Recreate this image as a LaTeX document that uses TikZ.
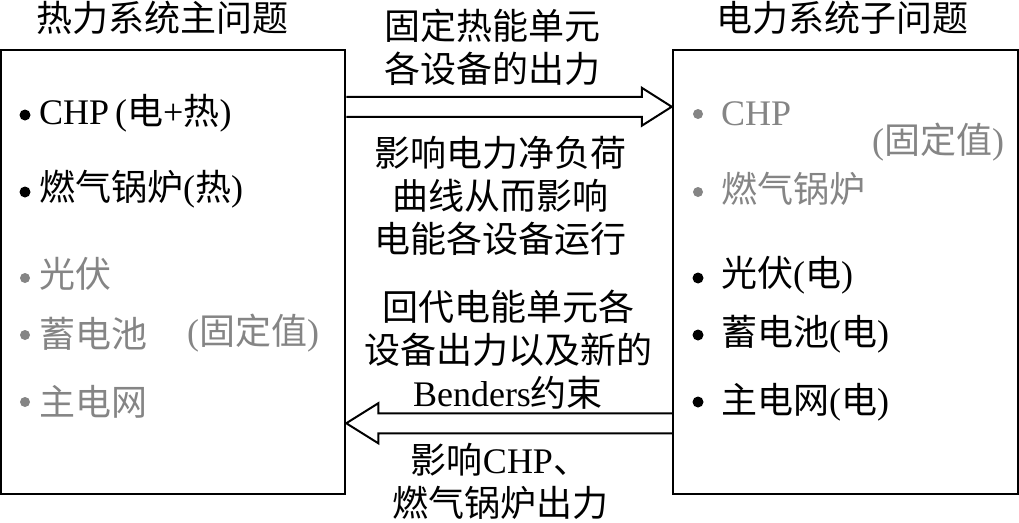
\documentclass[tikz,border=0pt]{standalone}
\usepackage{fontspec}
\setmainfont{Liberation Serif}
\newfontfamily\cjk{Noto Sans CJK SC}
\newcommand\zh[1]{{\cjk #1}}
\usetikzlibrary{calc}
\definecolor{fixgray}{gray}{0.52}
\begin{document}
\begin{tikzpicture}[x=1pt,y=-1pt,
  box/.style={draw, line width=2.5pt, inner sep=0pt},
  arr/.style={draw, line width=2pt, line join=miter},
  txt/.style={inner sep=0pt, font=\fontsize{36}{43}\selectfont},
  item/.style={txt, anchor=west},
  dim/.style={text=fixgray},
  dot/.style={circle, fill=black, inner sep=0pt, minimum size=11pt},
  dimdot/.style={dot, fill=fixgray, minimum size=10pt}]
\useasboundingbox (0,0) rectangle (1019,522);
% titles
\node[item] (Lt) at (36,18) {\zh{热力系统主问题}};
\node[item] (Rt) at (716,18) {\zh{电力系统子问题}};
% boxes
\node[box, minimum width=344pt, minimum height=444pt] (L) at (173,272) {};
\node[box, minimum width=345pt, minimum height=444pt] (R) at (845.5,272) {};
% left items
\node[dot] (lb1) at (25,115) {};
\node[item] (l1) at (39,113) {CHP\,(\zh{电}+\zh{热})};
\node[dot] (lb2) at (25,192) {};
\node[item] (l2) at (39,189) {\zh{燃气锅炉}(\zh{热})};
\node[dimdot] (lb3) at (25,278) {};
\node[item, dim] (l3) at (39,274) {\zh{光伏}};
\node[dimdot] (lb4) at (25,335) {};
\node[item, dim] (l4) at (39,334) {\zh{蓄电池}};
\node[item, dim] (l4f) at (187,333) {(\zh{固定值})};
\node[dimdot] (lb5) at (25,402) {};
\node[item, dim] (l5) at (39,402) {\zh{主电网}};
% right items
\node[dimdot] (rb1) at (698,114) {};
\node[item, dim] (r1) at (721,114) {CHP};
\node[item, dim] (r1f) at (872,142) {(\zh{固定值})};
\node[dimdot] (rb2) at (698,192) {};
\node[item, dim] (r2) at (721,189) {\zh{燃气锅炉}};
\node[dot] (rb3) at (698,278) {};
\node[item] (r3) at (721,275) {\zh{光伏}(\zh{电})};
\node[dot] (rb4) at (698,335) {};
\node[item] (r4) at (721,334) {\zh{蓄电池}(\zh{电})};
\node[dot] (rb5) at (698,402) {};
\node[item] (r5) at (721,402) {\zh{主电网}(\zh{电})};
% centre texts
\node[txt, align=center] (ta) at (492,47) {\zh{固定热能单元}\\\zh{各设备的出力}};
\node[txt, align=center] (tb) at (500,196) {\zh{影响电力净负荷}\\\zh{曲线从而影响}\\\zh{电能各设备运行}};
\node[txt, align=center] (tc) at (508,350) {\zh{回代电能单元各}\\\zh{设备出力以及新的}\\Benders\zh{约束}};
\node[txt, align=center] (td) at (500,481) {\zh{影响}CHP\zh{、}\\\zh{燃气锅炉出力}};
% block arrows
\draw[arr] ($(L.north east)+(0,48)$) -- ($(R.north west)+(-30,48)$) -- ++(0,-9)
  -- ($(R.north west)+(0,58)$) -- ($(R.north west)+(-30,77)$) -- ++(0,-9)
  -- ($(L.north east)+(0,68)$);
\draw[arr] ($(R.south west)+(0,-82)$) -- ($(L.south east)+(32,-82)$) -- ++(0,-10)
  -- ($(L.south east)+(0,-72)$) -- ($(L.south east)+(32,-52)$) -- ++(0,-10)
  -- ($(R.south west)+(0,-62)$);
\end{tikzpicture}
\end{document}
